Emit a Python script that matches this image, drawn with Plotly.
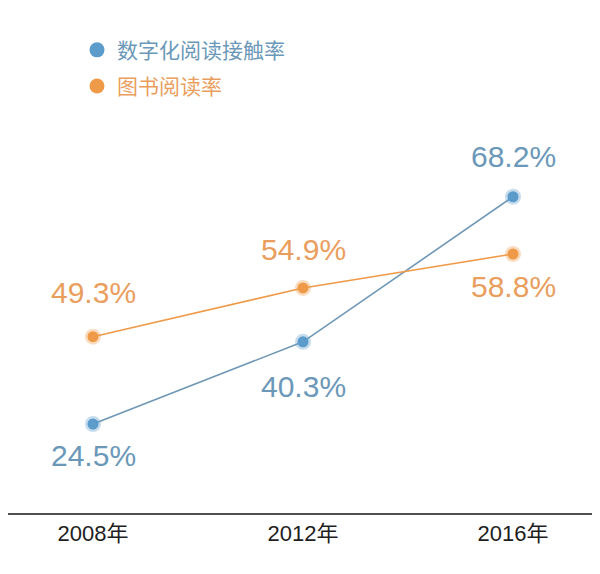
import plotly.graph_objects as go

years = [2008, 2012, 2016]
year_labels = ["2008年", "2012年", "2016年"]
digital = [24.5, 40.3, 68.2]
book = [49.3, 54.9, 58.8]
digital_name = "数字化阅读接触率"
book_name = "图书阅读率"

BLUE = "#5b9ccb"
BLUE_TXT = "#6b98b8"
BLUE_LINE = "#6e97b5"
ORANGE = "#ef9a48"
ORANGE_TXT = "#e99e5e"
FONT = "Liberation Sans, Noto Sans CJK SC, sans-serif"

fig = go.Figure()

fig.add_trace(go.Scatter(
    x=years, y=digital, mode="lines+markers", showlegend=False,
    line=dict(color=BLUE_LINE, width=1.6),
    marker=dict(size=11, color=BLUE, line=dict(color="rgba(91,156,203,0.35)", width=5)),
    yaxis="y", hoverinfo="skip"))
fig.add_trace(go.Scatter(
    x=years, y=book, mode="lines+markers", showlegend=False,
    line=dict(color=ORANGE, width=1.6),
    marker=dict(size=11, color=ORANGE, line=dict(color="rgba(239,154,72,0.35)", width=5)),
    yaxis="y2", hoverinfo="skip"))

# legend-only entries
fig.add_trace(go.Scatter(x=[None], y=[None], mode="markers", name=digital_name,
                         marker=dict(size=15, color=BLUE), legend="legend"))
fig.add_trace(go.Scatter(x=[None], y=[None], mode="markers", name=book_name,
                         marker=dict(size=15, color=ORANGE), legend="legend2", yaxis="y2"))

annotations = []
d_shift = [-31, -45, 40]
for x, v, s in zip(years, digital, d_shift):
    annotations.append(dict(x=x, y=v, xref="x", yref="y", text=f"{v}%", showarrow=False,
                            yshift=s, font=dict(size=30, color=BLUE_TXT, family=FONT)))
b_shift = [44, 38, -32]
for x, v, s in zip(years, book, b_shift):
    annotations.append(dict(x=x, y=v, xref="x", yref="y2", text=f"{v}%", showarrow=False,
                            yshift=s, font=dict(size=30, color=ORANGE_TXT, family=FONT)))

fig.update_layout(
    width=592, height=558,
    margin=dict(l=0, r=0, t=0, b=53),
    paper_bgcolor="white", plot_bgcolor="white",
    font=dict(family=FONT),
    xaxis=dict(range=[2006.381, 2017.657], tickvals=years, ticktext=year_labels,
               showgrid=False, zeroline=False, showline=True, linecolor="#505050",
               linewidth=2, ticks="", tickfont=dict(size=22, color="#1e1e1e"),
               fixedrange=True),
    yaxis=dict(range=[7.385, 104.5], visible=False, showgrid=False),
    yaxis2=dict(range=[29.047, 87.06], overlaying="y", visible=False, showgrid=False),
    legend=dict(x=69/592, y=1 - 24/558, xanchor="left", yanchor="top",
                font=dict(size=21, color=BLUE_TXT, family=FONT), itemsizing="trace",
                bgcolor="rgba(0,0,0,0)"),
    legend2=dict(x=69/592, y=1 - 64/558, xanchor="left", yanchor="top",
                 font=dict(size=21, color=ORANGE_TXT, family=FONT), itemsizing="trace",
                 bgcolor="rgba(0,0,0,0)"),
    annotations=annotations,
)

fig.write_html("out.html")
